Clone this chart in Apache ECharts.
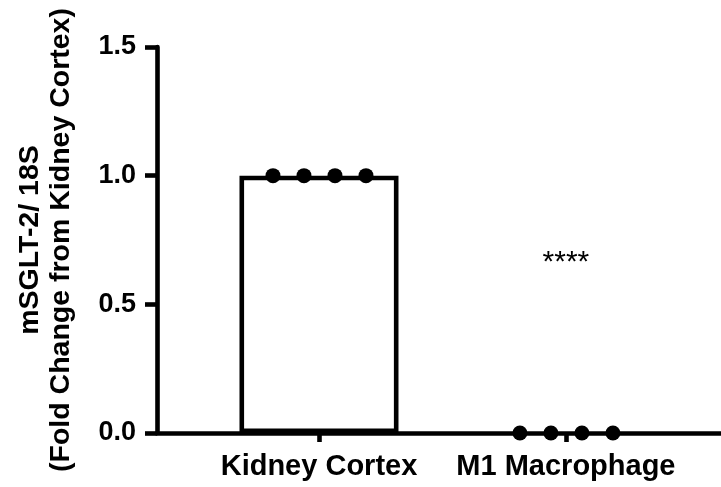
<!DOCTYPE html>
<html>
<head>
<meta charset="utf-8">
<script src="https://cdn.jsdelivr.net/npm/echarts@6/dist/echarts.min.js"></script>
<style>
html,body{margin:0;padding:0;background:#fff;}
#chart{width:721px;height:487px;}
</style>
</head>
<body>
<div id="chart"></div>
<script>
// ---- data ----
const categories = ['Kidney Cortex', 'M1 Macrophage'];
const kidneyCortexDots = [1.0, 1.0, 1.0, 1.0];
const m1MacrophageDots = [0.0, 0.0, 0.0, 0.0];
const barMeans = [1.0, 0.0];
const yTickValues = [0, 0.5, 1.0, 1.5];
const significance = ['', '****'];
const yTitleLines = ['mSGLT-2/ 18S', '(Fold Change from Kidney Cortex)'];

// ---- styles / layout ----
const FONT = 'Liberation Sans, Arial, Helvetica, sans-serif';
const DOT_SPREAD = 31;
const SIG_LEVEL = 0.66;
const LW = 4.6;

const chart = echarts.init(document.getElementById('chart'), null, {renderer: 'canvas'});

function dotData(vals, catIdx) {
  return vals.map((v, i) => ({
    value: [catIdx, v],
    symbolOffset: [Math.round((i - (vals.length - 1) / 2) * DOT_SPREAD), 0]
  }));
}

const option = {
  animation: false,
  backgroundColor: '#fff',
  grid: {left: 157, right: 0, top: 47, bottom: 54, containLabel: false},
  xAxis: {
    type: 'value',
    min: -0.656,
    max: 1.628,
    axisLine: {show: true, onZero: false, lineStyle: {color: '#000', width: LW}},
    axisTick: {show: true, customValues: categories.map((c, i) => i), length: 9, inside: false,
      lineStyle: {color: '#000', width: LW}},
    axisLabel: {show: true, customValues: categories.map((c, i) => i),
      formatter: v => categories[Math.round(v)] || '',
      color: '#000', fontFamily: FONT, fontWeight: 'bold', fontSize: 29, margin: 19},
    splitLine: {show: false}
  },
  yAxis: {
    type: 'value',
    min: yTickValues[0],
    max: yTickValues[yTickValues.length - 1],
    interval: 0.5,
    name: yTitleLines.join('\n'),
    nameLocation: 'middle',
    nameRotate: 90,
    nameGap: 80,
    nameTextStyle: {color: '#000', fontFamily: FONT, fontWeight: 'bold', fontSize: 28.5, lineHeight: 31, align: 'center'},
    axisLine: {show: true, onZero: false, lineStyle: {color: '#000', width: LW}},
    axisTick: {show: true, length: 12, lineStyle: {color: '#000', width: LW}},
    axisLabel: {color: '#000', fontFamily: FONT, fontWeight: 'bold', fontSize: 27, margin: 21,
      formatter: v => v.toFixed(1)},
    splitLine: {show: false}
  },
  series: [
    {
      type: 'bar',
      data: barMeans.map((v, i) => v === 0
        ? {value: [i, v], itemStyle: {borderWidth: 0, color: 'transparent'}}
        : {value: [i, v]}),
      barWidth: 159,
      itemStyle: {color: '#fff', borderColor: '#000', borderWidth: LW},
      z: 2,
      markPoint: {
        symbol: 'circle',
        symbolSize: 0,
        label: {show: true, position: 'inside', color: '#000', fontFamily: FONT, fontSize: 30,
          formatter: p => p.name},
        data: significance.map((s, i) => ({name: s, coord: [i, SIG_LEVEL]})).filter(d => d.name)
      }
    },
    {
      type: 'scatter',
      data: dotData(kidneyCortexDots, 0).concat(dotData(m1MacrophageDots, 1)),
      symbol: 'circle',
      symbolSize: 15,
      itemStyle: {color: '#000', opacity: 1},
      z: 5
    }
  ]
};
chart.setOption(option);
</script>
</body>
</html>
